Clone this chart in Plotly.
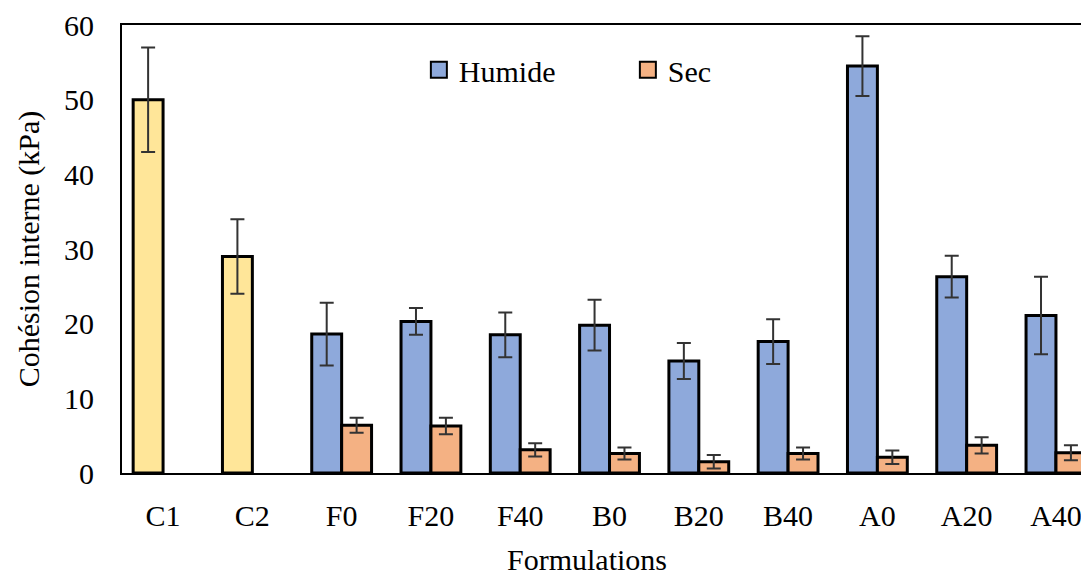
import plotly.graph_objects as go

# data
formulations = ["C1", "C2", "F0", "F20", "F40", "B0", "B20", "B40", "A0", "A20", "A40"]
controls = ["C1", "C2"]
control_vals = [50.0, 29.0]
control_err = [7.0, 5.0]

mixes = ["F0", "F20", "F40", "B0", "B20", "B40", "A0", "A20", "A40"]
humide = [18.6, 20.3, 18.5, 19.8, 15.0, 17.6, 54.5, 26.3, 21.1]
humide_err = [4.2, 1.8, 3.0, 3.4, 2.4, 3.0, 4.0, 2.8, 5.2]
sec = [6.4, 6.3, 3.1, 2.6, 1.5, 2.6, 2.1, 3.7, 2.7]
sec_err = [1.0, 1.1, 0.9, 0.8, 0.9, 0.8, 0.9, 1.1, 1.0]

FONT = "Times New Roman, Liberation Serif, serif"
FSIZE = 30
BLUE = "#8EA9DB"
ORANGE = "#F4B183"
YELLOW = "#FFE699"
err_style = dict(type="data", thickness=2, width=7, color="#333333")

fig = go.Figure()

# control formulations (drawn in the Humide slot, no legend entry)
fig.add_trace(go.Bar(
    x=controls, y=control_vals,
    error_y=dict(array=control_err, **err_style),
    marker=dict(color=YELLOW, line=dict(color="black", width=3)),
    offsetgroup="h", showlegend=False, name="Contrôle"
))
fig.add_trace(go.Bar(
    x=mixes, y=humide,
    error_y=dict(array=humide_err, **err_style),
    marker=dict(color=BLUE, line=dict(color="black", width=3)),
    offsetgroup="h", showlegend=False, name="Humide"
))
fig.add_trace(go.Bar(
    x=mixes, y=sec,
    error_y=dict(array=sec_err, **err_style),
    marker=dict(color=ORANGE, line=dict(color="black", width=3)),
    offsetgroup="s", showlegend=False, name="Sec"
))

# legend-only entries so the swatches are bigger squares like Excel's
for name, col in [("Humide", BLUE), ("Sec", ORANGE)]:
    fig.add_trace(go.Scatter(
        x=[None], y=[None], mode="markers", name=name,
        marker=dict(symbol="square", size=16, color=col,
                    line=dict(color="black", width=2))
    ))

# the page adds an 8px body margin, so the figure is shrunk by that much
fig.update_layout(
    width=1081, height=567,
    margin=dict(l=114, r=0, t=17, b=102),
    paper_bgcolor="white", plot_bgcolor="white",
    font=dict(family=FONT, size=FSIZE, color="black"),
    barmode="group", bargap=0.33, bargroupgap=0,
    legend=dict(
        orientation="h", x=0.307, y=0.9, xanchor="left", yanchor="middle",
        font=dict(family=FONT, size=FSIZE, color="black"),
        itemsizing="trace", itemwidth=30, tracegroupgap=0,
        bgcolor="rgba(0,0,0,0)", entrywidth=164
    ),
    showlegend=True,
)

# x title as annotation so it sits where the reference has it
fig.add_annotation(
    text="Formulations", xref="paper", yref="paper",
    x=0.481, y=-0.192, xanchor="center", yanchor="middle",
    showarrow=False, font=dict(family=FONT, size=FSIZE, color="black"),
)

fig.update_xaxes(
    categoryorder="array", categoryarray=formulations,
    range=[-0.46, 10.37],
    showline=True, linecolor="black", linewidth=2, mirror=True,
    ticks="", ticklabelstandoff=15,
    tickfont=dict(family=FONT, size=FSIZE),
)
fig.update_yaxes(
    range=[0, 60], dtick=10,
    showline=True, linecolor="black", linewidth=2,
    showgrid=False, zeroline=False, ticks="", ticklabelstandoff=20,
    title=dict(text="Cohésion interne (kPa)", standoff=16,
               font=dict(family=FONT, size=FSIZE)),
    tickfont=dict(family=FONT, size=FSIZE),
)

fig.write_html("out.html")
